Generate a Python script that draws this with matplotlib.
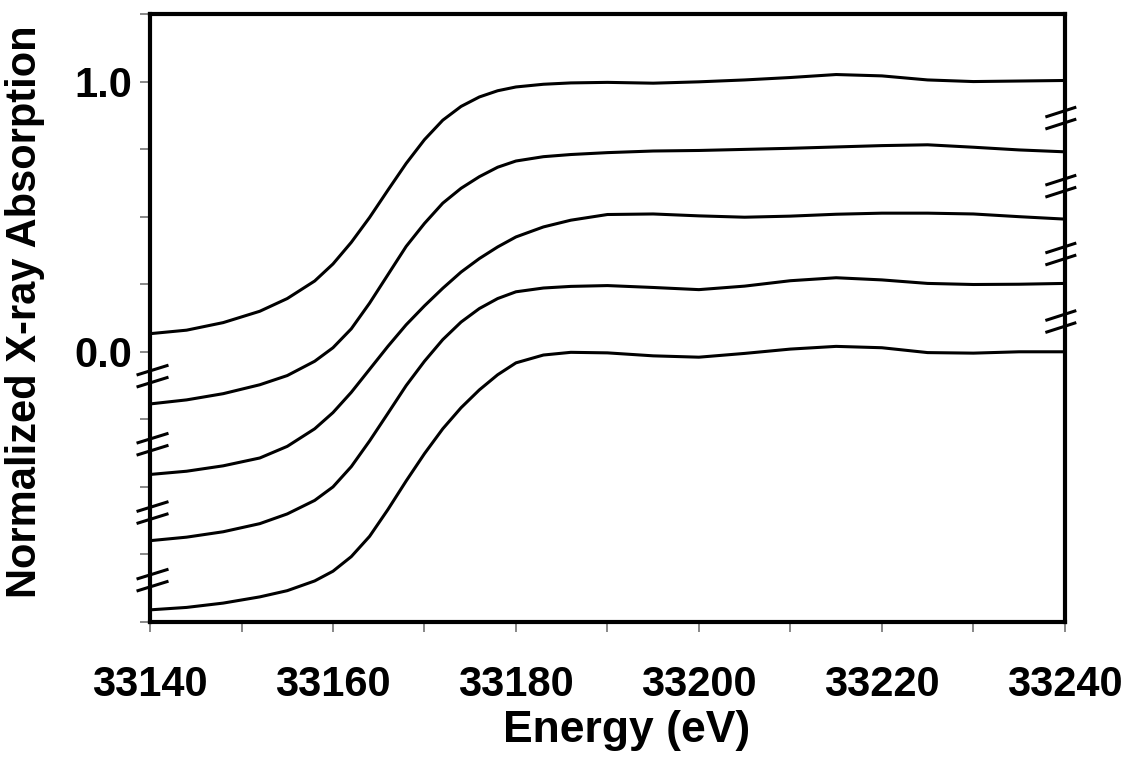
import numpy as np
import matplotlib.pyplot as plt
from matplotlib.ticker import MultipleLocator, FixedLocator, FormatStrFormatter

plt.rcParams['font.family'] = ['Liberation Sans', 'DejaVu Sans']
plt.rcParams['font.weight'] = 'bold'

# Energy grid (eV) and normalized XANES spectra, offset by 0.25 each
energy = [33140, 33144, 33148, 33152, 33155, 33158, 33160, 33162, 33164, 33166,
          33168, 33170, 33172, 33174, 33176, 33178, 33180, 33183, 33186, 33190,
          33195, 33200, 33205, 33210, 33215, 33220, 33225, 33230, 33235, 33240]

spec_1 = [0.067, 0.080, 0.108, 0.150, 0.197, 0.262, 0.325, 0.405, 0.497, 0.598,
          0.697, 0.785, 0.857, 0.908, 0.943, 0.966, 0.980, 0.990, 0.995, 0.997,
          0.994, 0.999, 1.006, 1.015, 1.026, 1.021, 1.006, 1.000, 1.002, 1.004]
spec_2 = [-0.193, -0.178, -0.155, -0.122, -0.088, -0.035, 0.015, 0.085, 0.180, 0.285,
          0.390, 0.475, 0.550, 0.605, 0.648, 0.683, 0.706, 0.722, 0.730, 0.737,
          0.743, 0.745, 0.749, 0.753, 0.758, 0.763, 0.766, 0.757, 0.747, 0.740]
spec_3 = [-0.454, -0.442, -0.422, -0.393, -0.350, -0.285, -0.225, -0.150, -0.065, 0.020,
          0.100, 0.170, 0.235, 0.295, 0.345, 0.388, 0.425, 0.462, 0.487, 0.508,
          0.510, 0.503, 0.498, 0.502, 0.509, 0.513, 0.513, 0.510, 0.500, 0.491]
spec_4 = [-0.699, -0.686, -0.666, -0.636, -0.600, -0.550, -0.500, -0.425, -0.330, -0.228,
          -0.125, -0.035, 0.045, 0.110, 0.160, 0.197, 0.222, 0.236, 0.242, 0.245,
          0.238, 0.230, 0.243, 0.263, 0.274, 0.266, 0.253, 0.249, 0.250, 0.253]
spec_5 = [-0.955, -0.946, -0.930, -0.907, -0.884, -0.848, -0.812, -0.758, -0.683, -0.584,
          -0.478, -0.377, -0.285, -0.207, -0.141, -0.085, -0.041, -0.012, -0.002, -0.004,
          -0.015, -0.020, -0.006, 0.010, 0.020, 0.015, -0.003, -0.005, 0.000, 0.000]

# axis break marks (data y) on left and right spines
left_breaks = [-0.09, -0.342, -0.595, -0.845]
right_breaks = [0.865, 0.613, 0.362, 0.112]

fig = plt.figure(figsize=(11.28, 7.78), dpi=100)
ax = fig.add_axes([0.133, 0.2005, 0.811, 0.7815])

for s in [spec_1, spec_2, spec_3, spec_4, spec_5]:
    ax.plot(energy, s, color='black', lw=2.2, solid_joinstyle='round')

ax.set_xlim(33140, 33240)
ax.set_ylim(-1.0, 1.25)
ax.xaxis.set_major_locator(MultipleLocator(20))
ax.xaxis.set_minor_locator(MultipleLocator(10))
ax.yaxis.set_major_locator(FixedLocator([0.0, 1.0]))
ax.yaxis.set_minor_locator(MultipleLocator(0.25))
ax.yaxis.set_major_formatter(FormatStrFormatter('%.1f'))
ax.tick_params(which='both', direction='out', length=7, width=1.2, color='0.45')
ax.tick_params(axis='x', which='major', labelsize=30, pad=24)
ax.tick_params(axis='y', which='major', labelsize=30, pad=6)
for sp in ax.spines.values():
    sp.set_linewidth(3)

ax.set_xlabel('Energy (eV)', fontsize=32, fontweight='bold')
ax.xaxis.set_label_coords(0.521, -0.145)
ax.set_ylabel('Normalized X-ray Absorption', fontsize=30, fontweight='bold')
ax.yaxis.set_label_coords(-0.115, 0.51)


def draw_break(y, x_edge, left_px, right_px):
    # two short slanted strokes crossing the spine, sized in pixels
    x0, y0 = ax.transData.transform((x_edge, y))
    for off in (-6, 6):
        pts = [(x0 - left_px, y0 + off - 4.5), (x0 + right_px, y0 + off + 4.5)]
        d = ax.transData.inverted().transform(pts)
        ax.plot(d[:, 0], d[:, 1], color='black', lw=2.2, clip_on=False)


for y in left_breaks:
    draw_break(y, 33140, 12, 17)
for y in right_breaks:
    draw_break(y, 33240, 18, 10)

fig.savefig('out.png', dpi=100)
